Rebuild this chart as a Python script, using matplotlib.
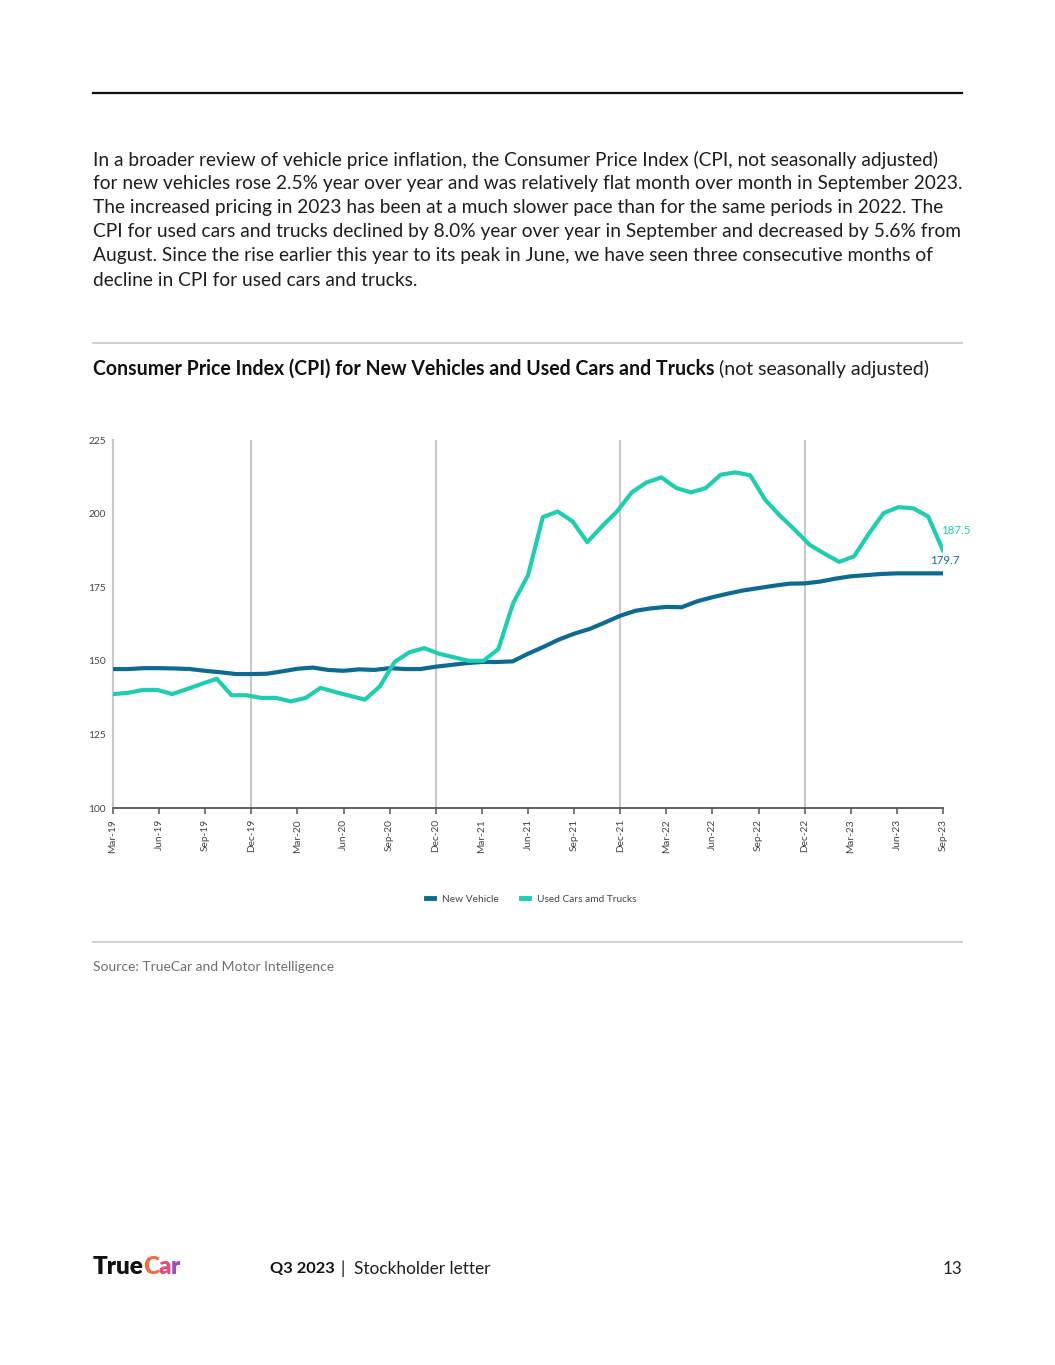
import numpy as np
import matplotlib.pyplot as plt
from matplotlib.lines import Line2D

W, H = 1055, 1365

# month categories (Mar-19 .. Sep-23), labels every 3 months
tick_labels = ["Mar-19", "Jun-19", "Sep-19", "Dec-19", "Mar-20", "Jun-20", "Sep-20",
               "Dec-20", "Mar-21", "Jun-21", "Sep-21", "Dec-21", "Mar-22", "Jun-22",
               "Sep-22", "Dec-22", "Mar-23", "Jun-23", "Sep-23"]
year_breaks = ["Dec-19", "Dec-20", "Dec-21", "Dec-22"]

# CPI values
new_vehicle = [147.2, 147.2, 147.5, 147.5, 147.4, 147.2, 146.6, 146.1, 145.5, 145.5,
               145.6, 146.4, 147.3, 147.7, 146.9, 146.6, 147.1, 146.9, 147.5, 147.2,
               147.2, 148.0, 148.6, 149.2, 149.6, 149.6, 149.8, 152.4, 154.7, 157.2,
               159.2, 160.8, 163.0, 165.3, 167.0, 167.8, 168.3, 168.2, 170.2, 171.6,
               172.8, 173.9, 174.7, 175.5, 176.2, 176.3, 176.9, 177.9, 178.7, 179.1,
               179.5, 179.7, 179.7, 179.7, 179.7]

used_cars = [138.7, 139.1, 140.1, 140.1, 138.7, 140.4, 142.2, 143.9, 138.3, 138.3,
             137.4, 137.4, 136.2, 137.4, 140.8, 139.4, 138.1, 136.8, 141.3, 149.6,
             152.9, 154.3, 152.4, 151.2, 150.0, 150.0, 154.0, 169.6, 179.0, 198.8,
             200.7, 197.4, 190.3, 195.7, 200.7, 207.2, 210.6, 212.3, 208.7, 207.2,
             208.7, 213.2, 214.0, 213.0, 204.7, 199.3, 194.5, 189.4, 186.4, 183.6,
             185.5, 193.2, 200.2, 202.2, 201.8, 199.0, 187.5]

paragraph = [
    "In a broader review of vehicle price inflation, the Consumer Price Index (CPI, not seasonally adjusted)",
    "for new vehicles rose 2.5% year over year and was relatively flat month over month in September 2023.",
    "The increased pricing in 2023 has been at a much slower pace than for the same periods in 2022. The",
    "CPI for used cars and trucks declined by 8.0% year over year in September and decreased by 5.6% from",
    "August. Since the rise earlier this year to its peak in June, we have seen three consecutive months of",
    "decline in CPI for used cars and trucks.",
]

NEW_C = "#0d6b93"
USED_C = "#1fcdb1"
GRID_C = "#c9c9c9"
FONT = "Lato"

plt.rcParams["font.family"] = [FONT, "DejaVu Sans"]

fig = plt.figure(figsize=(W / 100, H / 100), dpi=100)


def fx(px):
    return px / W


def fy(py):
    return 1 - py / H


# page rules
fig.add_artist(Line2D([fx(93), fx(962)], [fy(93), fy(93)], color="#111111", lw=1.6))
fig.add_artist(Line2D([fx(93), fx(962)], [fy(343), fy(343)], color="#cfcfcf", lw=1.4))
fig.add_artist(Line2D([fx(93), fx(962)], [fy(942), fy(942)], color="#cfcfcf", lw=1.4))

# body text
for i, line in enumerate(paragraph):
    fig.text(fx(93), fy(160 + 24 * i), line, fontsize=13.75, color="#1e1e1e", va="center", ha="left")

# title: bold part + regular part
renderer = fig.canvas.get_renderer()
t1 = fig.text(fx(93), fy(369), "Consumer Price Index (CPI) for New Vehicles and Used Cars and Trucks",
              fontsize=14.05, fontweight="bold", color="#111111", va="center", ha="left")
bb = t1.get_window_extent(renderer=renderer)
fig.text(bb.x1 / W + fx(4), fy(369), "(not seasonally adjusted)",
         fontsize=14.05, color="#1e1e1e", va="center", ha="left")

# chart
ax = fig.add_axes([fx(113), fy(808), fx(943) - fx(113), (808 - 440) / H])
x_new = np.arange(len(new_vehicle))
x_used = np.linspace(0, len(new_vehicle) - 1, len(used_cars))

for lab in year_breaks:
    ax.axvline(tick_labels.index(lab) * 3, color=GRID_C, lw=1.5, zorder=1)

ax.plot(x_new, new_vehicle, color=NEW_C, lw=3.0, solid_joinstyle="round", zorder=3)
ax.plot(x_used, used_cars, color=USED_C, lw=3.0, solid_joinstyle="round", zorder=3)

ax.set_xlim(0, len(new_vehicle) - 1)
ax.set_ylim(100, 225)
ax.set_yticks([100, 125, 150, 175, 200, 225])
ax.set_yticklabels(["100", "125", "150", "175", "200", "225"], fontsize=7.3, color="#444444")
ax.set_xticks(np.arange(0, len(new_vehicle), 3))
ax.set_xticklabels(tick_labels, rotation=90, fontsize=7.3, color="#444444")
ax.tick_params(axis="y", length=0, pad=5)
ax.tick_params(axis="x", length=4, width=1.1, color="#555555", pad=4)

for s in ["top", "right"]:
    ax.spines[s].set_visible(False)
ax.spines["left"].set_color(GRID_C)
ax.spines["left"].set_linewidth(1.5)
ax.spines["bottom"].set_color("#555555")
ax.spines["bottom"].set_linewidth(1.3)

# end labels
ax.annotate(f"{used_cars[-1]:.1f}", (x_used[-1], used_cars[-1]), xytext=(-1.5, 14),
            textcoords="offset points", fontsize=8.3, color=USED_C, ha="left", va="center")
ax.annotate(f"{new_vehicle[-1]:.1f}", (x_new[-1], new_vehicle[-1]), xytext=(1.5, 9),
            textcoords="offset points", fontsize=8.3, color=NEW_C, ha="center", va="center")

handles = [Line2D([0], [0], color=NEW_C, lw=3.5), Line2D([0], [0], color=USED_C, lw=3.5)]
fig.legend(handles, ["New Vehicle", "Used Cars amd Trucks"], loc="center",
           bbox_to_anchor=(fx(531), fy(899)), ncol=2, frameon=False, fontsize=7.3,
           handlelength=0.8, handletextpad=0.8, columnspacing=2.2, labelcolor="#444444")

# source
fig.text(fx(93), fy(967), "Source: TrueCar and Motor Intelligence", fontsize=10,
         color="#6f6f6f", va="center", ha="left")

# footer
logo = fig.text(fx(93), fy(1267), "True", fontsize=17.5, fontweight="heavy", color="#111111",
                va="center", ha="left")
x_cur = logo.get_window_extent(renderer=renderer).x1 - 1
for ch, col in [("C", "#f26a3d"), ("a", "#e94a7c"), ("r", "#a547c2")]:
    t = fig.text(x_cur / W, fy(1267), ch, fontsize=17.5, fontweight="heavy", color=col,
                 va="center", ha="left")
    x_cur = t.get_window_extent(renderer=renderer).x1 - 0.5

q = fig.text(fx(270), fy(1269), "Q3 2023", fontsize=11.8, fontweight="bold", color="#111111",
             va="center", ha="left")
qx = q.get_window_extent(renderer=renderer).x1
fig.text(qx / W + fx(6), fy(1269), "|  Stockholder letter", fontsize=12.4, color="#1e1e1e",
         va="center", ha="left")
fig.text(fx(962), fy(1269), "13", fontsize=12.2, color="#1e1e1e", va="center", ha="right")

fig.savefig("out.png", dpi=100)
